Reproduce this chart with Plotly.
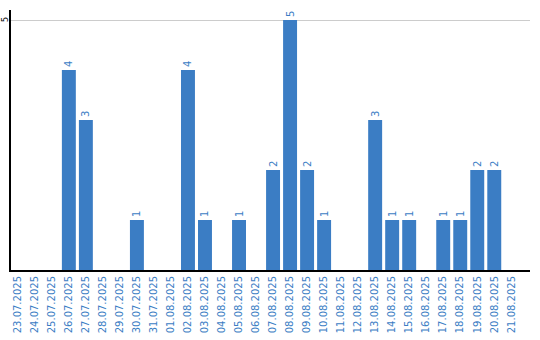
import plotly.graph_objects as go

dates = ["23.07.2025","24.07.2025","25.07.2025","26.07.2025","27.07.2025","28.07.2025",
         "29.07.2025","30.07.2025","31.07.2025","01.08.2025","02.08.2025","03.08.2025",
         "04.08.2025","05.08.2025","06.08.2025","07.08.2025","08.08.2025","09.08.2025",
         "10.08.2025","11.08.2025","12.08.2025","13.08.2025","14.08.2025","15.08.2025",
         "16.08.2025","17.08.2025","18.08.2025","19.08.2025","20.08.2025","21.08.2025"]
counts = [0,0,0,4,3,0,0,1,0,0,4,1,0,1,0,2,5,2,1,0,0,3,1,1,0,1,1,2,2,0]
y_ticks = [5]

BLUE = "#3b7dc4"
labels = [str(v) if v else "" for v in counts]

fig = go.Figure(go.Bar(
    x=dates, y=counts, marker_color=BLUE, marker_line_width=0,
    text=labels, textposition="outside", textangle=-90,
    textfont=dict(family="DejaVu Sans", size=10, color=BLUE),
    cliponaxis=False,
))
fig.update_layout(
    width=540, height=340, margin=dict(l=11, r=10, t=10, b=70),
    plot_bgcolor="white", paper_bgcolor="white", bargap=0.18,
    showlegend=False, font=dict(family="DejaVu Sans", size=10),
)
for t in y_ticks:
    fig.add_annotation(x=0, xref="paper", y=t, yref="y", text=str(t), showarrow=False,
                       textangle=-90, xanchor="center", xshift=-6,
                       font=dict(family="DejaVu Sans", size=8, color="black"))
fig.update_xaxes(type="category", range=[-0.4, 30.1], tickangle=-90,
                 tickfont=dict(family="DejaVu Sans", size=10, color=BLUE),
                 showline=True, linecolor="black", linewidth=2, showgrid=False,
                 ticks="", ticklen=0, automargin=False)
fig.update_yaxes(range=[0, 5.2], tickvals=y_ticks, showticklabels=False,
                 showline=True, linecolor="black", linewidth=2,
                 showgrid=True, gridcolor="#cccccc", zeroline=False, ticks="",
                 automargin=False)
fig.write_html("out.html")
